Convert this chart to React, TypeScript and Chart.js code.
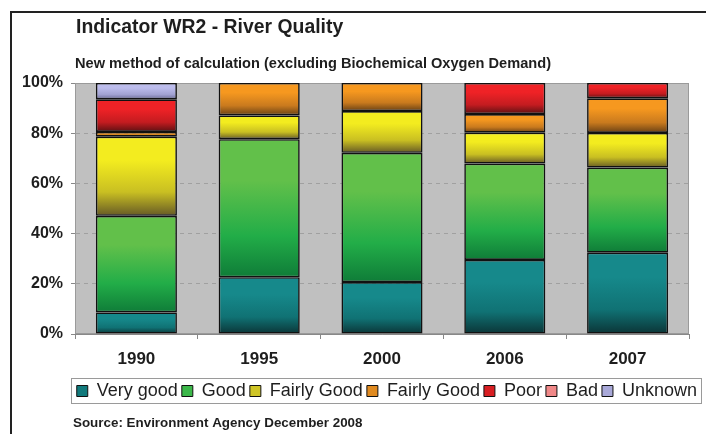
import React, { useEffect, useRef } from "react";
import { Chart, registerables } from "chart.js";
Chart.register(...registerables);

const years = ["1990", "1995", "2000", "2006", "2007"];
const seriesNames = ["Very good", "Good", "Fairly Good", "Fairly Good", "Poor", "Bad", "Unknown"];
const veryGood = [8.6, 22.6, 20.7, 29.5, 32.4];
const good = [38.5, 55.0, 51.5, 38.4, 33.9];
const fairlyGoodYellow = [31.5, 9.5, 16.6, 12.3, 13.8];
const fairlyGoodOrange = [1.9, 12.9, 11.2, 7.4, 13.8];
const poor = [13.0, 0, 0, 12.4, 6.1];
const bad = [0, 0, 0, 0, 0];
const unknown = [6.5, 0, 0, 0, 0];
const yMax = 100;
const yStep = 20;

const titleText = "Indicator WR2 - River Quality";
const subtitleText = "New method of calculation (excluding Biochemical Oxygen Demand)";
const sourceText = "Source: Environment Agency December 2008";

const seriesValues = [veryGood, good, fairlyGoodYellow, fairlyGoodOrange, poor, bad, unknown];

const gradients = [
  ["#16898b", "#107274", "#0b3436"],
  ["#62c04a", "#22ad48", "#0f7c38"],
  ["#f3ec1f", "#c9bf22", "#665a26"],
  ["#f6981f", "#c97a1e", "#684014"],
  ["#ef2226", "#c41c20", "#5a1012"],
  ["#f4a0a0", "#e07070", "#a04040"],
  ["#bcbcec", "#a2a2d2", "#6a6a96"],
];
const legendColors = ["#127a7c", "#3cb84a", "#cfc526", "#e08a20", "#d81e22", "#f08888", "#a8a8d8"];

const FONT = '"Liberation Sans", Arial, Helvetica, sans-serif';

const makeBg = (di: number) => (ctx: any) => {
  const stops = gradients[di];
  if (ctx.type !== "data") return stops[1];
  const chart = ctx.chart;
  const y = chart.scales && chart.scales.y;
  if (!y || !chart.chartArea) return stops[1];
  const i = ctx.dataIndex;
  let base = 0;
  for (let k = 0; k < di; k++) base += seriesValues[k][i] || 0;
  const v = seriesValues[di][i] || 0;
  const yTop = y.getPixelForValue(base + v);
  const yBot = y.getPixelForValue(base);
  if (!isFinite(yTop) || !isFinite(yBot) || yBot - yTop < 1) return stops[1];
  const g = chart.ctx.createLinearGradient(0, yTop, 0, yBot);
  g.addColorStop(0, stops[0]);
  g.addColorStop(0.3, stops[0]);
  g.addColorStop(0.7, stops[1]);
  g.addColorStop(1, stops[2]);
  return g;
};

const decor = {
  id: "decor",
  beforeDraw(chart: any) {
    const { ctx, chartArea: a } = chart;
    ctx.save();
    ctx.fillStyle = "#ffffff";
    ctx.fillRect(0, 0, chart.width, chart.height);
    ctx.fillStyle = "#c0c0c0";
    ctx.fillRect(a.left, a.top, a.right - a.left, a.bottom - a.top);
    ctx.restore();
  },
  beforeDatasetsDraw(chart: any) {
    const { ctx, chartArea: a } = chart;
    ctx.save();
    ctx.strokeStyle = "#9a9a9a";
    ctx.lineWidth = 1;
    ctx.strokeRect(a.left + 0.5, a.top + 0.5, a.right - a.left - 1, a.bottom - a.top - 1);
    ctx.restore();
  },
  afterDraw(chart: any) {
    const { ctx } = chart;
    ctx.save();
    // frame
    ctx.strokeStyle = "#222";
    ctx.lineWidth = 2;
    ctx.beginPath();
    ctx.moveTo(11, chart.height);
    ctx.lineTo(11, 12);
    ctx.lineTo(chart.width, 12);
    ctx.stroke();
    // texts
    ctx.fillStyle = "#1e1e1e";
    ctx.textBaseline = "middle";
    ctx.textAlign = "left";
    ctx.font = `bold 19.4px ${FONT}`;
    ctx.fillText(titleText, 76, 28);
    ctx.font = `bold 14.6px ${FONT}`;
    ctx.fillText(subtitleText, 75, 64);
    ctx.font = `bold 13.4px ${FONT}`;
    ctx.fillText(sourceText, 73, 423);
    // legend frame
    const lg = chart.legend;
    if (lg && lg.legendHitBoxes && lg.legendHitBoxes.length) {
      const hb = lg.legendHitBoxes;
      const first = hb[0];
      const last = hb[hb.length - 1];
      const left = first.left - 6;
      const right = Math.min(last.left + last.width + 4, chart.width - 3);
      const top = first.top - 4;
      const bottom = first.top + first.height + 3;
      ctx.strokeStyle = "#9a9a9a";
      ctx.lineWidth = 1;
      ctx.strokeRect(Math.round(left) + 0.5, Math.round(top) + 0.5, Math.round(right - left), Math.round(bottom - top));
    }
    ctx.restore();
  },
};

export default function App() {
  const ref = useRef<HTMLCanvasElement | null>(null);
  useEffect(() => {
    if (!ref.current) return;
    Chart.defaults.font.family = FONT;
    const chart = new Chart(ref.current, {
      type: "bar",
      data: {
        labels: years,
        datasets: seriesValues.map((vals, di) => ({
          label: seriesNames[di],
          data: vals.map((v) => (v === 0 ? null : v)),
          backgroundColor: makeBg(di),
          borderColor: "#111111",
          borderWidth: 1.6,
          borderSkipped: false,
          barPercentage: 0.66,
          categoryPercentage: 1,
        })),
      },
      options: {
        responsive: false,
        animation: false,
        devicePixelRatio: 1,
        layout: { padding: { top: 83, left: 18, right: 5, bottom: 24 } },
        plugins: {
          title: { display: false },
          tooltip: { enabled: false },
          legend: {
            display: true,
            position: "bottom",
            align: "end",
            labels: {
              boxWidth: 11,
              boxHeight: 11,
              padding: 4,
              color: "#1e1e1e",
              font: { size: 18, family: FONT },
              generateLabels: () =>
                seriesNames.map((name, i) => ({
                  text: name,
                  fillStyle: legendColors[i],
                  strokeStyle: "#111",
                  lineWidth: 1,
                  hidden: false,
                  datasetIndex: i,
                  fontColor: "#1e1e1e",
                })),
            },
          },
        },
        scales: {
          x: {
            stacked: true,
            offset: true,
            grid: { display: true, drawOnChartArea: false, offset: true, tickLength: 5, tickColor: "#888" },
            border: { display: true, color: "#888" },
            ticks: { padding: 10, color: "#1e1e1e", font: { size: 17, weight: "bold", family: FONT } },
            afterFit: (s: any) => {
              s.height = 44;
            },
          },
          y: {
            stacked: true,
            min: 0,
            max: yMax,
            grid: { color: "#a0a0a0", tickLength: 4, tickColor: "#888", tickBorderDash: [] },
            border: { display: true, color: "#888", dash: [4, 4] },
            ticks: {
              stepSize: yStep,
              padding: 8,
              color: "#1e1e1e",
              font: { size: 16, weight: "bold", family: FONT },
              callback: (v: any) => `${v}%`,
            },
            afterFit: (s: any) => {
              s.width = 57;
            },
          },
          yR: {
            type: "linear",
            position: "right",
            display: true,
            min: 0,
            max: 1,
            grid: { display: false },
            border: { display: false },
            ticks: { display: false },
            afterFit: (s: any) => {
              s.width = 12;
            },
          },
        },
      },
      plugins: [decor],
    } as any);
    return () => chart.destroy();
  }, []);
  return (
    <div style={{ position: "absolute", left: 0, top: 0, width: 706, height: 434 }}>
      <canvas ref={ref} width={706} height={434} style={{ display: "block" }} />
    </div>
  );
}
